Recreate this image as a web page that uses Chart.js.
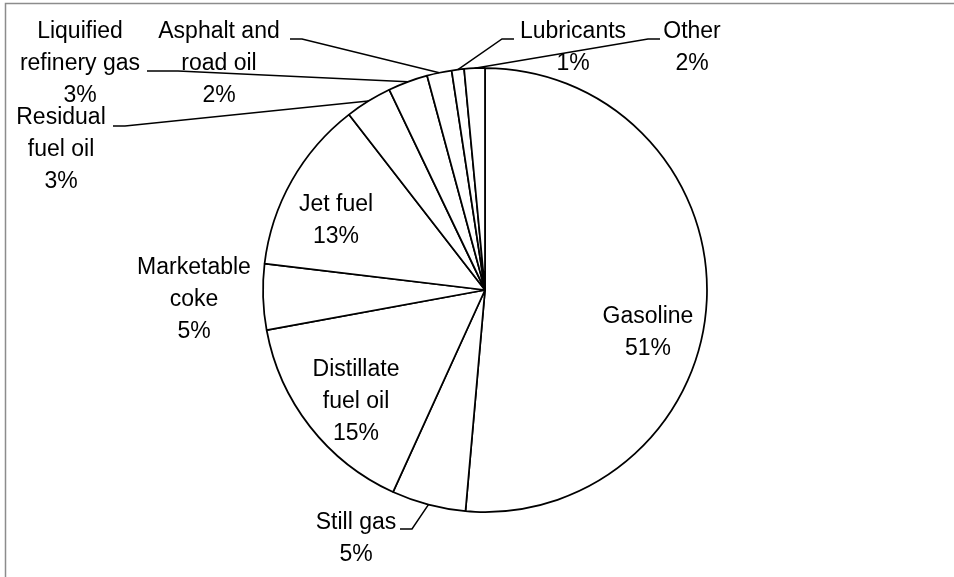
<!DOCTYPE html>
<html lang="en">
<head>
    <meta charset="UTF-8">
    <title>Refinery Products</title>
    <script src="https://cdn.jsdelivr.net/npm/chart.js"></script>
    <style>
        html, body {
            margin: 0;
            padding: 0;
            background: #fff;
            overflow: hidden;
        }
        .chart-box {
            position: relative;
            width: 954px;
            height: 577px;
        }
    </style>
</head>
<body>
    <div class="chart-box">
        <canvas id="pieChart" width="954" height="577"></canvas>
    </div>

    <script>
        // data, clockwise from 12 o'clock
        const categories = [
            'Gasoline',
            'Still gas',
            ['Distillate', 'fuel oil'],
            ['Marketable', 'coke'],
            'Jet fuel',
            ['Residual', 'fuel oil'],
            ['Liquified', 'refinery gas'],
            ['Asphalt and', 'road oil'],
            'Lubricants',
            'Other'
        ];
        const shares = [51.4, 5.4, 15.3, 4.8, 12.6, 3.4, 2.9, 1.8, 0.9, 1.5];

        // where each label sits (text centre, first line) and its leader line
        const labelLayout = [
            { x: 648, y: 317 },
            { x: 356, y: 523, leader: [[400, 529], [412, 529]] },
            { x: 356, y: 370 },
            { x: 194, y: 268 },
            { x: 336, y: 205 },
            { x: 61, y: 118, leader: [[113, 126], [125, 126]] },
            { x: 80, y: 32, leader: [[147, 71], [178, 71]] },
            { x: 219, y: 32, leader: [[290, 39], [302, 39]] },
            { x: 573, y: 32, leader: [[514, 39], [502, 39]] },
            { x: 692, y: 32, leader: [[660, 39], [648, 39]] }
        ];

        const LINE_H = 32;

        const framePlugin = {
            id: 'frame',
            beforeDraw(chart) {
                const ctx = chart.ctx;
                ctx.save();
                ctx.strokeStyle = '#8c8c8c';
                ctx.lineWidth = 1.5;
                ctx.strokeRect(5.5, 3.5, 1200, 1200);
                ctx.restore();
            }
        };

        const labelPlugin = {
            id: 'sliceLabels',
            afterDatasetsDraw(chart) {
                const ctx = chart.ctx;
                const arcs = chart.getDatasetMeta(0).data;
                ctx.save();
                ctx.font = '23px "Liberation Sans", Arial, sans-serif';
                ctx.fillStyle = '#000';
                ctx.strokeStyle = '#000';
                ctx.lineWidth = 1.5;
                ctx.textAlign = 'center';
                ctx.textBaseline = 'middle';

                arcs.forEach((arc, i) => {
                    const lay = labelLayout[i];
                    const name = categories[i];
                    const lines = (Array.isArray(name) ? name.slice() : [name]);
                    lines.push(Math.round(shares[i]) + '%');
                    lines.forEach((t, k) => ctx.fillText(t, lay.x, lay.y + k * LINE_H));

                    if (lay.leader) {
                        const p = arc.getProps(['x', 'y', 'startAngle', 'endAngle', 'outerRadius'], true);
                        const mid = (p.startAngle + p.endAngle) / 2;
                        const ex = p.x + Math.cos(mid) * p.outerRadius;
                        const ey = p.y + Math.sin(mid) * p.outerRadius;
                        ctx.beginPath();
                        ctx.moveTo(lay.leader[0][0], lay.leader[0][1]);
                        ctx.lineTo(lay.leader[1][0], lay.leader[1][1]);
                        ctx.lineTo(ex, ey);
                        ctx.stroke();
                    }
                });
                ctx.restore();
            }
        };

        const ctx = document.getElementById('pieChart').getContext('2d');
        new Chart(ctx, {
            type: 'pie',
            data: {
                labels: categories,
                datasets: [{
                    data: shares,
                    backgroundColor: '#ffffff',
                    borderColor: '#000000',
                    borderWidth: 1.75,
                    radius: 222
                }]
            },
            options: {
                responsive: false,
                animation: false,
                layout: {
                    padding: { left: 16, right: 0, top: 3, bottom: 0 }
                },
                plugins: {
                    legend: { display: false },
                    tooltip: { enabled: false }
                }
            },
            plugins: [framePlugin, labelPlugin]
        });
    </script>
</body>
</html>
